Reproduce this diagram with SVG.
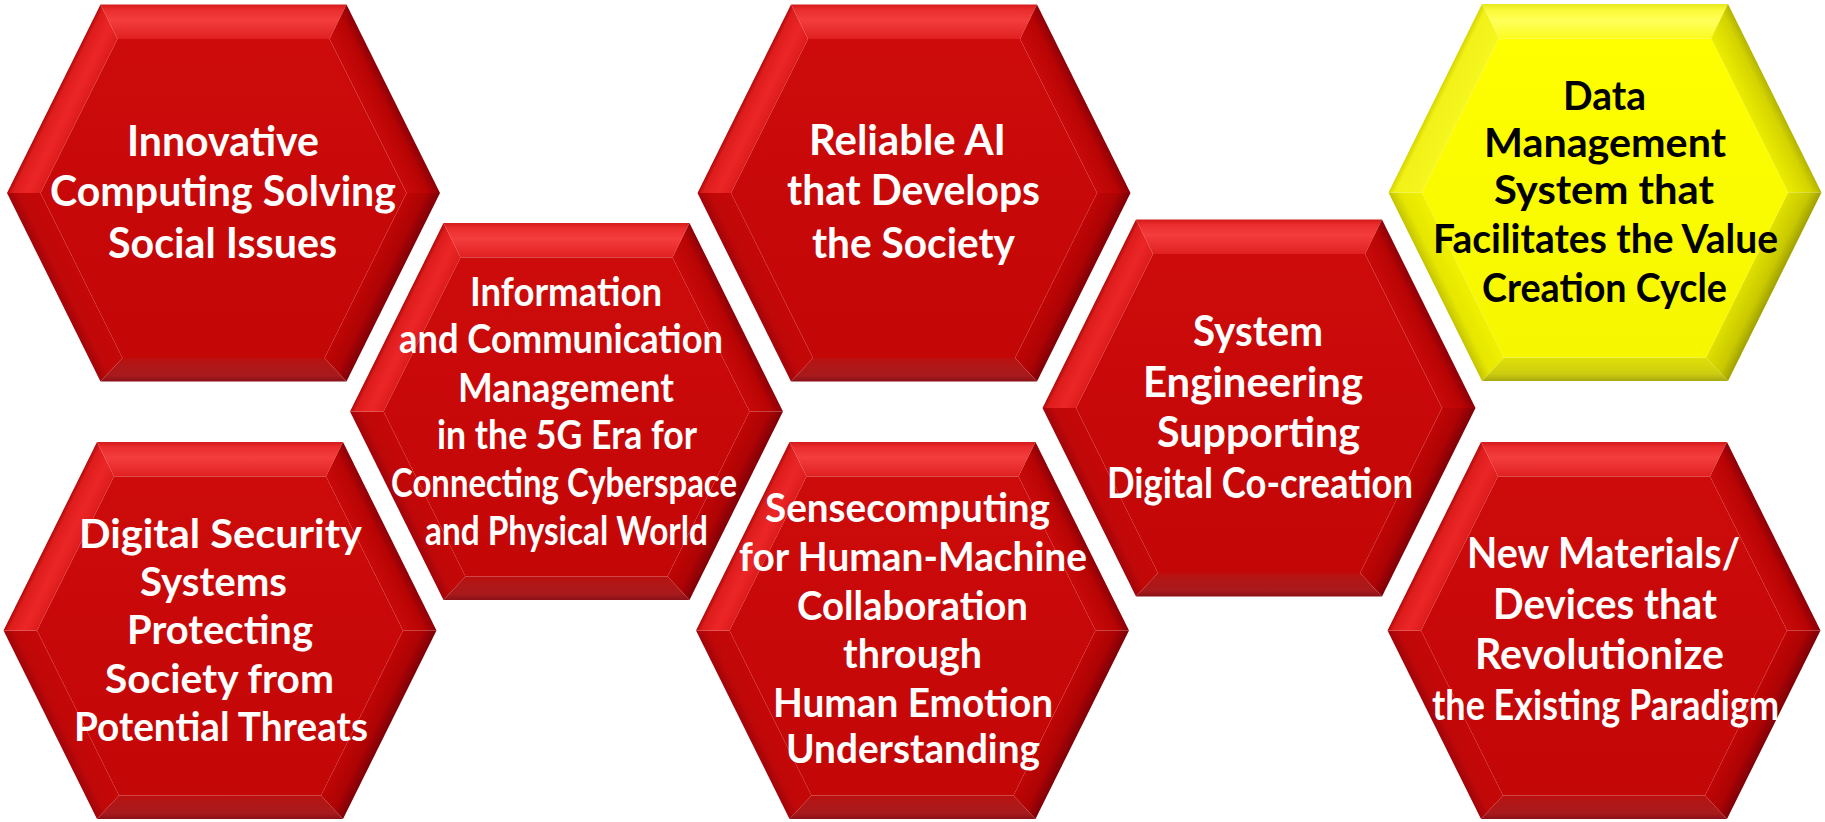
<svg xmlns="http://www.w3.org/2000/svg" xmlns:xlink="http://www.w3.org/1999/xlink" width="1825" height="822" viewBox="0 0 1825 822">
<style>
.t{font-family:Lato,"Liberation Sans",sans-serif;font-weight:700;text-anchor:middle;fill:#ffffff}
.ty{fill:#000000}
.f42{font-size:42px}
.f41{font-size:41px}
.f40{font-size:40px}
</style>
<defs>
<!-- red gradients -->
<linearGradient id="rTop" gradientUnits="userSpaceOnUse" x1="0" y1="-188.5" x2="0" y2="-154">
<stop offset="0" stop-color="#d41a1a"/><stop offset="0.15" stop-color="#ea2c2c"/><stop offset="0.45" stop-color="#f43d3d"/><stop offset="1" stop-color="#e02020"/>
</linearGradient>
<linearGradient id="rUL" gradientUnits="userSpaceOnUse" x1="-169.75" y1="-94.25" x2="-142.9" y2="-80.96">
<stop offset="0" stop-color="#b00a0a"/><stop offset="0.15" stop-color="#de1c1c"/><stop offset="0.6" stop-color="#ec2626"/><stop offset="1" stop-color="#de1c1c"/>
</linearGradient>
<linearGradient id="rUR" gradientUnits="userSpaceOnUse" x1="169.75" y1="-94.25" x2="142.9" y2="-80.96">
<stop offset="0" stop-color="#8c0008"/><stop offset="0.35" stop-color="#b80404"/><stop offset="1" stop-color="#c90909"/>
</linearGradient>
<linearGradient id="rLR" gradientUnits="userSpaceOnUse" x1="169.75" y1="94.25" x2="142.9" y2="80.96">
<stop offset="0" stop-color="#7e0008"/><stop offset="0.4" stop-color="#ad0304"/><stop offset="1" stop-color="#c00505"/>
</linearGradient>
<linearGradient id="rBot" gradientUnits="userSpaceOnUse" x1="0" y1="188.5" x2="0" y2="165">
<stop offset="0" stop-color="#8a1018"/><stop offset="0.25" stop-color="#a81a1c"/><stop offset="0.75" stop-color="#b21616"/><stop offset="1" stop-color="#bc0e0e"/>
</linearGradient>
<linearGradient id="rLL" gradientUnits="userSpaceOnUse" x1="-169.75" y1="94.25" x2="-142.9" y2="80.96">
<stop offset="0" stop-color="#a0040a"/><stop offset="0.35" stop-color="#c00808"/><stop offset="1" stop-color="#c50707"/>
</linearGradient>
<linearGradient id="rFace" gradientUnits="userSpaceOnUse" x1="0" y1="-154" x2="0" y2="165">
<stop offset="0" stop-color="#cd0b0b"/><stop offset="1" stop-color="#c30606"/>
</linearGradient>
<!-- yellow gradients -->
<linearGradient id="yTop" gradientUnits="userSpaceOnUse" x1="0" y1="-188.5" x2="0" y2="-154">
<stop offset="0" stop-color="#e8e820"/><stop offset="0.2" stop-color="#fbfb3a"/><stop offset="0.5" stop-color="#ffff5a"/><stop offset="1" stop-color="#fbfb20"/>
</linearGradient>
<linearGradient id="yUL" gradientUnits="userSpaceOnUse" x1="-169.75" y1="-94.25" x2="-142.9" y2="-80.96">
<stop offset="0" stop-color="#d6d600"/><stop offset="0.2" stop-color="#f2f218"/><stop offset="1" stop-color="#f6f620"/>
</linearGradient>
<linearGradient id="yUR" gradientUnits="userSpaceOnUse" x1="169.75" y1="-94.25" x2="142.9" y2="-80.96">
<stop offset="0" stop-color="#b4b400"/><stop offset="0.3" stop-color="#d4d400"/><stop offset="1" stop-color="#ecec00"/>
</linearGradient>
<linearGradient id="yLR" gradientUnits="userSpaceOnUse" x1="169.75" y1="94.25" x2="142.9" y2="80.96">
<stop offset="0" stop-color="#a0a000"/><stop offset="0.35" stop-color="#c8c800"/><stop offset="1" stop-color="#e0e000"/>
</linearGradient>
<linearGradient id="yBot" gradientUnits="userSpaceOnUse" x1="0" y1="188.5" x2="0" y2="165">
<stop offset="0" stop-color="#a8a810"/><stop offset="0.3" stop-color="#cccc10"/><stop offset="1" stop-color="#e0e008"/>
</linearGradient>
<linearGradient id="yLL" gradientUnits="userSpaceOnUse" x1="-169.75" y1="94.25" x2="-142.9" y2="80.96">
<stop offset="0" stop-color="#c4c400"/><stop offset="0.35" stop-color="#e6e600"/><stop offset="1" stop-color="#f0f000"/>
</linearGradient>
<linearGradient id="yFace" gradientUnits="userSpaceOnUse" x1="0" y1="-154" x2="0" y2="165">
<stop offset="0" stop-color="#ffff00"/><stop offset="1" stop-color="#f6f600"/>
</linearGradient>

<g id="hexRed">
<polygon points="-123,-188.5 123,-188.5 106,-154 -106,-154" fill="url(#rTop)"/>
<polygon points="123,-188.5 216.5,0 183,0 106,-154" fill="url(#rUR)"/>
<polygon points="216.5,0 123,188.5 101,165 183,0" fill="url(#rLR)"/>
<polygon points="123,188.5 -123,188.5 -101,165 101,165" fill="url(#rBot)"/>
<polygon points="-123,188.5 -216.5,0 -183,0 -101,165" fill="url(#rLL)"/>
<polygon points="-216.5,0 -123,-188.5 -106,-154 -183,0" fill="url(#rUL)"/>
<polygon points="-106,-154 106,-154 183,0 101,165 -101,165 -183,0" fill="url(#rFace)"/>
</g>
<g id="hexYellow">
<polygon points="-123,-188.5 123,-188.5 106,-154 -106,-154" fill="url(#yTop)"/>
<polygon points="123,-188.5 216.5,0 183,0 106,-154" fill="url(#yUR)"/>
<polygon points="216.5,0 123,188.5 101,165 183,0" fill="url(#yLR)"/>
<polygon points="123,188.5 -123,188.5 -101,165 101,165" fill="url(#yBot)"/>
<polygon points="-123,188.5 -216.5,0 -183,0 -101,165" fill="url(#yLL)"/>
<polygon points="-216.5,0 -123,-188.5 -106,-154 -183,0" fill="url(#yUL)"/>
<polygon points="-106,-154 106,-154 183,0 101,165 -101,165 -183,0" fill="url(#yFace)"/>
</g>
</defs>

<rect x="0" y="0" width="1825" height="822" fill="#ffffff"/>

<g id="connectors"></g>

<g id="node-innovative-computing">
<use href="#hexRed" transform="translate(223.5,193)"/>
<text class="t f42" lengthAdjust="spacingAndGlyphs" x="223" y="156" textLength="192">Innovative</text>
<text class="t f42" lengthAdjust="spacingAndGlyphs" x="223" y="206" textLength="346">Computing Solving</text>
<text class="t f42" lengthAdjust="spacingAndGlyphs" x="222.5" y="258" textLength="229">Social Issues</text>
</g>

<g id="node-information-communication">
<use href="#hexRed" transform="translate(566.5,411.5)"/>
<text class="t f40" lengthAdjust="spacingAndGlyphs" x="566" y="306" textLength="192">Information</text>
<text class="t f40" lengthAdjust="spacingAndGlyphs" x="561" y="353" textLength="324">and Communication</text>
<text class="t f40" lengthAdjust="spacingAndGlyphs" x="566" y="402" textLength="216">Management</text>
<text class="t f40" lengthAdjust="spacingAndGlyphs" x="567" y="449" textLength="260">in the 5G Era for</text>
<text class="t f40" lengthAdjust="spacingAndGlyphs" x="564" y="497" textLength="346">Connecting Cyberspace</text>
<text class="t f40" lengthAdjust="spacingAndGlyphs" x="566.5" y="545" textLength="283">and Physical World</text>
</g>

<g id="node-reliable-ai">
<use href="#hexRed" transform="translate(914,193)"/>
<text class="t f42" lengthAdjust="spacingAndGlyphs" x="907.5" y="155" textLength="197">Reliable AI</text>
<text class="t f42" lengthAdjust="spacingAndGlyphs" x="913.5" y="205" textLength="253">that Develops</text>
<text class="t f42" lengthAdjust="spacingAndGlyphs" x="913.5" y="258" textLength="203">the Society</text>
</g>

<g id="node-system-engineering">
<use href="#hexRed" transform="translate(1259,408)"/>
<text class="t f42" lengthAdjust="spacingAndGlyphs" x="1258" y="346" textLength="130">System</text>
<text class="t f42" lengthAdjust="spacingAndGlyphs" x="1253" y="397" textLength="220">Engineering</text>
<text class="t f42" lengthAdjust="spacingAndGlyphs" x="1258.5" y="447" textLength="203">Supporting</text>
<text class="t f42" lengthAdjust="spacingAndGlyphs" x="1260" y="498" textLength="306">Digital Co-creation</text>
</g>

<g id="node-data-management">
<use href="#hexYellow" transform="translate(1605,192.5)"/>
<text class="t ty f40" lengthAdjust="spacingAndGlyphs" x="1604.5" y="110" textLength="83">Data</text>
<text class="t ty f40" lengthAdjust="spacingAndGlyphs" x="1605" y="157" textLength="242">Management</text>
<text class="t ty f40" lengthAdjust="spacingAndGlyphs" x="1604" y="204" textLength="220">System that</text>
<text class="t ty f40" lengthAdjust="spacingAndGlyphs" x="1605.5" y="253" textLength="345">Facilitates the Value</text>
<text class="t ty f40" lengthAdjust="spacingAndGlyphs" x="1604.5" y="302" textLength="245">Creation Cycle</text>
</g>

<g id="node-digital-security">
<use href="#hexRed" transform="translate(220,630.5)"/>
<text class="t f41" lengthAdjust="spacingAndGlyphs" x="220.5" y="548" textLength="283">Digital Security</text>
<text class="t f41" lengthAdjust="spacingAndGlyphs" x="213.5" y="596" textLength="147">Systems</text>
<text class="t f41" lengthAdjust="spacingAndGlyphs" x="220" y="644" textLength="186">Protecting</text>
<text class="t f41" lengthAdjust="spacingAndGlyphs" x="219.5" y="693" textLength="229">Society from</text>
<text class="t f41" lengthAdjust="spacingAndGlyphs" x="221" y="741" textLength="294">Potential Threats</text>
</g>

<g id="node-sensecomputing">
<use href="#hexRed" transform="translate(912.5,630.5)"/>
<text class="t f40" lengthAdjust="spacingAndGlyphs" x="907.5" y="522" textLength="285">Sensecomputing</text>
<text class="t f40" lengthAdjust="spacingAndGlyphs" x="913" y="571" textLength="348">for Human-Machine</text>
<text class="t f40" lengthAdjust="spacingAndGlyphs" x="912.5" y="620" textLength="231">Collaboration</text>
<text class="t f40" lengthAdjust="spacingAndGlyphs" x="912.5" y="668" textLength="139">through</text>
<text class="t f40" lengthAdjust="spacingAndGlyphs" x="913" y="717" textLength="280">Human Emotion</text>
<text class="t f40" lengthAdjust="spacingAndGlyphs" x="913" y="763" textLength="254">Understanding</text>
</g>

<g id="node-new-materials">
<use href="#hexRed" transform="translate(1604,630.5)"/>
<text class="t f42" lengthAdjust="spacingAndGlyphs" x="1603.5" y="568" textLength="273">New Materials/</text>
<text class="t f42" lengthAdjust="spacingAndGlyphs" x="1605" y="619" textLength="224">Devices that</text>
<text class="t f42" lengthAdjust="spacingAndGlyphs" x="1599.5" y="669" textLength="249">Revolutionize</text>
<text class="t f42" lengthAdjust="spacingAndGlyphs" x="1605.5" y="720" textLength="347">the Existing Paradigm</text>
</g>
</svg>
